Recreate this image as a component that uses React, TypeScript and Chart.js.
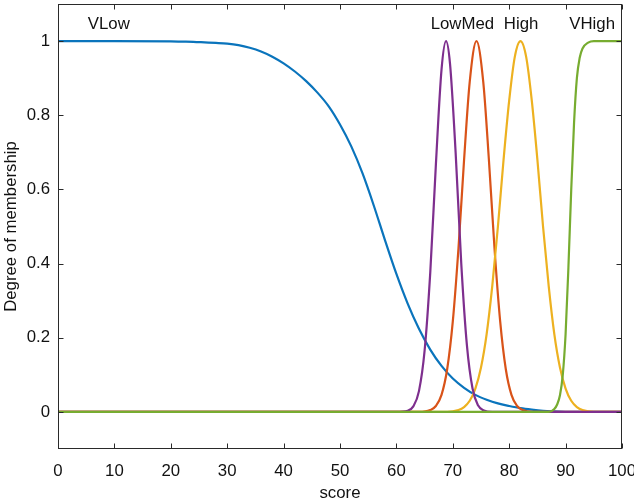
import React, { useEffect, useRef } from 'react';
import { Chart, registerables } from 'chart.js';

Chart.register(...registerables);

// ---- Axis ticks ----
const xTicks = [0, 10, 20, 30, 40, 50, 60, 70, 80, 90, 100];
const yTicks = [0, 0.2, 0.4, 0.6, 0.8, 1];

// ---- VLow (blue) ----
const vlowScore = [0, 10, 20, 22, 24, 26, 28, 30, 32, 34, 36, 38, 40, 42, 44, 46, 48, 50, 52, 54, 56, 58, 60, 62, 64, 66, 68, 70, 72, 74, 76, 78, 80, 82, 84, 86, 88, 90, 92, 100];
const vlowDegree = [1, 1, 0.999, 0.9985, 0.998, 0.9965, 0.995, 0.993, 0.989, 0.982, 0.972, 0.958, 0.94, 0.918, 0.892, 0.861, 0.824, 0.775, 0.716, 0.643, 0.556, 0.462, 0.372, 0.292, 0.224, 0.168, 0.124, 0.09, 0.065, 0.046, 0.033, 0.023, 0.016, 0.01, 0.006, 0.003, 0.0015, 0.0005, 0, 0];

// ---- Med (orange) ----
const medScore = [0, 64, 66, 67, 68, 69, 70, 71, 72, 73, 74.2, 75.4, 76.4, 77.4, 78.4, 79.4, 80.4, 81.4, 82.4, 84, 100];
const medDegree = [0, 0, 0.005, 0.016, 0.046, 0.115, 0.244, 0.44, 0.68, 0.89, 1, 0.89, 0.68, 0.44, 0.244, 0.115, 0.046, 0.016, 0.005, 0, 0];

// ---- High (yellow) ----
const highScore = [0, 69, 71, 72, 73, 74, 75, 76, 77, 78, 79, 80, 81, 82, 83, 84, 85, 86, 87, 88, 89, 90, 91, 92, 93, 95, 100];
const highDegree = [0, 0, 0.005, 0.013, 0.03, 0.063, 0.12, 0.21, 0.34, 0.5, 0.68, 0.84, 0.958, 1, 0.958, 0.84, 0.68, 0.5, 0.34, 0.21, 0.12, 0.063, 0.03, 0.013, 0.005, 0, 0];

// ---- Low (purple) ----
const lowScore = [0, 60, 62, 63, 64, 65, 66, 67, 68, 68.8, 69.5, 70.5, 71.5, 72.5, 73.5, 74.5, 75.5, 77, 100];
const lowDegree = [0, 0, 0.003, 0.015, 0.056, 0.165, 0.375, 0.667, 0.923, 1, 0.94, 0.7, 0.4, 0.18, 0.063, 0.017, 0.004, 0, 0];

// ---- VHigh (green) ----
const vhighScore = [0, 87, 88, 88.5, 89, 89.5, 90, 90.5, 91, 91.5, 92, 92.5, 93, 94, 95, 100];
const vhighDegree = [0, 0, 0.008, 0.02, 0.045, 0.1, 0.21, 0.39, 0.6, 0.78, 0.9, 0.955, 0.98, 0.996, 1, 1];

// ---- Term labels ----
const termNames = ['VLow', 'LowMed', 'High', 'VHigh'];
const termLabelScore = [9.0, 71.7, 82.1, 94.7];
const termLabelDegree = 1.046;

const FONT = "'Liberation Sans', Arial, Helvetica, sans-serif";
const FONT_SIZE = 16.8;
const TEXT = '#111111';
const AXIS = '#2a2a2a';

const zip = (xs: number[], ys: number[]) => xs.map((x, i) => ({ x, y: ys[i] }));

const framePlugin = {
  id: 'frameAndLabels',
  afterDatasetsDraw(chart: any) {
    const { ctx, chartArea } = chart;
    const xs = chart.scales.x;
    const ys = chart.scales.y;
    ctx.save();
    // term labels
    ctx.fillStyle = TEXT;
    ctx.font = `${FONT_SIZE}px ${FONT}`;
    ctx.textAlign = 'center';
    ctx.textBaseline = 'middle';
    termNames.forEach((t, i) => {
      ctx.fillText(t, xs.getPixelForValue(termLabelScore[i]), ys.getPixelForValue(termLabelDegree));
    });
    // box
    ctx.strokeStyle = AXIS;
    ctx.lineWidth = 1;
    const l = Math.round(chartArea.left) + 0.5;
    const r = Math.round(chartArea.right) - 0.5;
    const t = Math.round(chartArea.top) + 0.5;
    const b = Math.round(chartArea.bottom) - 0.5;
    ctx.strokeRect(l, t, r - l, b - t);
    const tl = 5;
    ctx.beginPath();
    xTicks.forEach((v) => {
      const px = Math.round(xs.getPixelForValue(v)) + 0.5;
      ctx.moveTo(px, b);
      ctx.lineTo(px, b - tl);
      ctx.moveTo(px, t);
      ctx.lineTo(px, t + tl);
    });
    yTicks.forEach((v) => {
      const py = Math.round(ys.getPixelForValue(v)) + 0.5;
      ctx.moveTo(l, py);
      ctx.lineTo(l + tl, py);
      ctx.moveTo(r, py);
      ctx.lineTo(r - tl, py);
    });
    ctx.stroke();
    ctx.restore();
  },
};

export default function App() {
  const ref = useRef<HTMLCanvasElement | null>(null);

  useEffect(() => {
    if (!ref.current) return;
    const common = {
      borderWidth: 2.2,
      pointRadius: 0,
      fill: false,
      cubicInterpolationMode: 'monotone' as const,
    };
    const chart = new Chart(ref.current, {
      type: 'line',
      data: {
        datasets: [
          { label: 'VLow', data: zip(vlowScore, vlowDegree), borderColor: '#0A74BC', order: 5, ...common },
          { label: 'Med', data: zip(medScore, medDegree), borderColor: '#D95319', order: 4, ...common },
          { label: 'High', data: zip(highScore, highDegree), borderColor: '#EDB120', order: 3, ...common },
          { label: 'Low', data: zip(lowScore, lowDegree), borderColor: '#7E2F8E', order: 2, ...common },
          { label: 'VHigh', data: zip(vhighScore, vhighDegree), borderColor: '#77AC30', order: 1, ...common },
        ],
      },
      options: {
        responsive: false,
        animation: false,
        layout: { padding: { left: 0, right: 12, top: 4, bottom: 0 } },
        plugins: { legend: { display: false }, tooltip: { enabled: false } },
        scales: {
          x: {
            type: 'linear',
            min: 0,
            max: 100,
            grid: { display: false, drawTicks: false },
            border: { display: false },
            afterBuildTicks: (s: any) => {
              s.ticks = xTicks.map((v) => ({ value: v }));
            },
            afterFit: (s: any) => {
              s.height = 50;
              s.paddingLeft = 0;
              s.paddingRight = 0;
            },
            ticks: {
              padding: 12,
              maxRotation: 0,
              autoSkip: false,
              color: TEXT,
              font: { family: FONT, size: FONT_SIZE },
              callback: (v: any) => String(v),
            },
            title: {
              display: true,
              text: 'score',
              color: TEXT,
              font: { family: FONT, size: FONT_SIZE, lineHeight: 1 },
              padding: { top: 0, bottom: -3 },
            },
          },
          y: {
            type: 'linear',
            min: -0.1,
            max: 1.1,
            grid: { display: false, drawTicks: false },
            border: { display: false },
            afterBuildTicks: (s: any) => {
              s.ticks = yTicks.map((v) => ({ value: v }));
            },
            afterFit: (s: any) => {
              s.width = 58;
              s.paddingTop = 0;
              s.paddingBottom = 0;
            },
            ticks: {
              padding: 8,
              autoSkip: false,
              color: TEXT,
              font: { family: FONT, size: FONT_SIZE },
              callback: (v: any) => String(Math.round(v * 10) / 10),
            },
            title: {
              display: true,
              text: 'Degree of membership',
              color: TEXT,
              font: { family: FONT, size: FONT_SIZE, lineHeight: 1 },
              padding: { top: 3, bottom: 0 },
            },
          },
        },
      },
      plugins: [framePlugin],
    });
    return () => chart.destroy();
  }, []);

  return (
    <div style={{ position: 'fixed', left: 0, top: 0, width: 634, height: 499, background: '#ffffff' }}>
      <canvas ref={ref} width={634} height={499} style={{ display: 'block', width: 634, height: 499 }} />
    </div>
  );
}
